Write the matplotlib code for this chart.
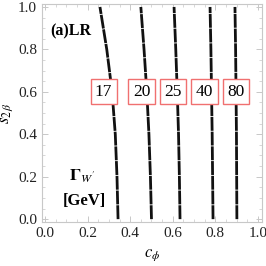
import matplotlib
matplotlib.use("Agg")
import matplotlib.pyplot as plt
import numpy as np

plt.rcParams['font.family'] = ['Liberation Serif', 'DejaVu Serif']
plt.rcParams['mathtext.fontset'] = 'stix'

# contour curves of Gamma_W': x = c_phi at given s_2beta
s_vals = [0.0, 0.2, 0.4, 0.6, 0.8, 1.0]
c_17 = [0.343, 0.338, 0.330, 0.315, 0.290, 0.258]
c_20 = [0.500, 0.495, 0.488, 0.478, 0.465, 0.450]
c_25 = [0.634, 0.631, 0.627, 0.621, 0.614, 0.606]
c_40 = [0.789, 0.787, 0.785, 0.782, 0.779, 0.775]
c_80 = [0.901, 0.900, 0.899, 0.897, 0.895, 0.892]
curves = [c_17, c_20, c_25, c_40, c_80]

labels = ["17", "20", "25", "40", "80"]
label_x = [0.275, 0.453, 0.600, 0.749, 0.899]
label_y = 0.6

fig = plt.figure(figsize=(2.66, 2.66), dpi=100)
ax = fig.add_axes([0.158, 0.165, 0.827, 0.82])

for c in curves:
    ax.plot(c, s_vals, color='#111111', lw=2.0, ls=(0, (5, 0.3)), solid_capstyle='butt')

for lab, lx in zip(labels, label_x):
    ax.text(lx, label_y, lab, ha='center', va='center', fontsize=12.5,
            bbox=dict(boxstyle='square,pad=0.25', fc='white', ec='#f07070', lw=1.0))

ax.text(0.025, 0.885, "(a)LR", fontsize=11.5, fontweight='bold', ha='left', va='center')
ax.text(0.175, 0.2, r"$\mathbf{\Gamma}_{W'}$", fontsize=12.5, ha='center', va='center')
ax.text(0.185, 0.085, "[GeV]", fontsize=12, fontweight='bold', ha='center', va='center')

ax.set_xlim(-0.014, 1.019)
ax.set_ylim(-0.014, 1.014)
ticks = [0.0, 0.2, 0.4, 0.6, 0.8, 1.0]
ax.set_xticks(ticks)
ax.set_yticks(ticks)
ax.set_xticklabels(["%.1f" % t for t in ticks])
ax.set_yticklabels(["%.1f" % t for t in ticks])
ax.set_xticks(np.arange(0, 1.01, 0.05), minor=True)
ax.set_yticks(np.arange(0, 1.01, 0.05), minor=True)
ax.tick_params(which='both', direction='in', labelsize=11, top=True, right=True,
               labeltop=False, labelright=False, colors='#222222')
ax.tick_params(which='both', color='#c8c8c8')
ax.tick_params(which='major', length=4, width=0.7)
ax.tick_params(which='minor', length=2, width=0.5)
for sp in ax.spines.values():
    sp.set_color('#c8c8c8')
    sp.set_linewidth(0.8)

ax.set_xlabel(r"$c_{\phi}$", fontsize=12, labelpad=5)
ax.set_ylabel(r"$s_{2\,\beta}$", fontsize=12, labelpad=2)

fig.savefig("out.png", dpi=100)
